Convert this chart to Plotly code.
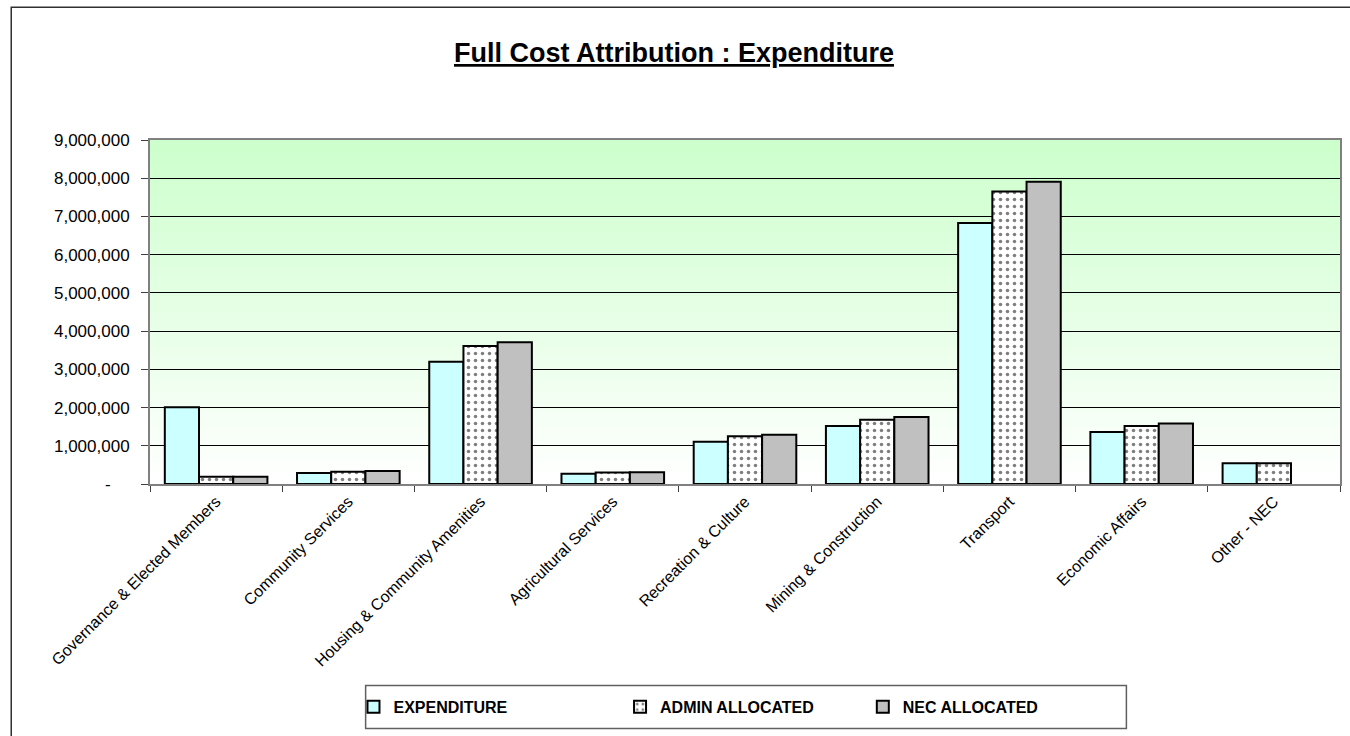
import plotly.graph_objects as go

categories = [
    "Governance & Elected Members",
    "Community Services",
    "Housing & Community Amenities",
    "Agricultural Services",
    "Recreation & Culture",
    "Mining & Construction",
    "Transport",
    "Economic Affairs",
    "Other - NEC",
]
expenditure = [2010000, 290000, 3200000, 270000, 1105000, 1520000, 6830000, 1360000, 540000]
admin_allocated = [190000, 320000, 3610000, 300000, 1250000, 1680000, 7650000, 1520000, 540000]
nec_allocated = [190000, 340000, 3710000, 305000, 1290000, 1750000, 7910000, 1580000, 0]

y_tickvals = [0, 1000000, 2000000, 3000000, 4000000, 5000000, 6000000, 7000000, 8000000, 9000000]
y_ticktext = ["-\u00a0\u00a0\u00a0\u00a0", "1,000,000", "2,000,000", "3,000,000", "4,000,000",
              "5,000,000", "6,000,000", "7,000,000", "8,000,000", "9,000,000"]

NARROW = "Liberation Sans Narrow, Arial Narrow, Liberation Sans, Arial"
REG = "Liberation Sans, Arial"


def outline(values):
    # zero-height bars get no outline so nothing is drawn for them
    return dict(color="black", width=[2 if v else 0 for v in values])


fig = go.Figure()

fig.add_trace(go.Bar(
    x=categories, y=expenditure, name="EXPENDITURE",
    marker=dict(color="#CCFFFF", line=outline(expenditure)),
    legend="legend",
))
fig.add_trace(go.Bar(
    x=categories, y=admin_allocated, name="ADMIN ALLOCATED",
    marker=dict(color="white", line=outline(admin_allocated),
                pattern=dict(shape=".", fgcolor="black", bgcolor="white",
                             size=7, solidity=0.2)),
    legend="legend2",
))
fig.add_trace(go.Bar(
    x=categories, y=nec_allocated, name="NEC ALLOCATED",
    marker=dict(color="#C0C0C0", line=outline(nec_allocated)),
    legend="legend3",
))

# Vertical green-to-white gradient behind the plot area
shapes = []
n_strips = 90
top = (0xCC, 0xFF, 0xCC)
for i in range(n_strips):
    f = (i + 0.5) / n_strips  # 0 at bottom, 1 at top
    r = round(255 + (top[0] - 255) * f)
    g = round(255 + (top[1] - 255) * f)
    b = round(255 + (top[2] - 255) * f)
    shapes.append(dict(
        type="rect", xref="x domain", yref="y domain",
        x0=0, x1=1, y0=i / n_strips, y1=(i + 1) / n_strips + 0.002,
        fillcolor=f"rgb({r},{g},{b})", line=dict(width=0), layer="below",
    ))

# Outer chart frame
shapes.append(dict(
    type="rect", xref="paper", yref="paper",
    x0=-0.1166, x1=1.02, y0=-0.76, y1=1.386,
    line=dict(color="#303030", width=1.5), fillcolor="rgba(0,0,0,0)", layer="above",
))
# Legend frame
shapes.append(dict(
    type="rect", xref="paper", yref="paper",
    x0=0.1812, x1=0.8205, y0=-0.7107, y1=-0.5858,
    line=dict(color="#606060", width=1.5), fillcolor="white", layer="above",
))
fig.update_layout(shapes=shapes)

legend_common = dict(
    orientation="h", bgcolor="rgba(0,0,0,0)", borderwidth=0,
    font=dict(family=NARROW, size=16, color="black", weight="bold"),
    yanchor="middle", y=-0.648, xanchor="left",
)
fig.update_layout(
    legend=dict(legend_common, x=0.1710),
    legend2=dict(legend_common, x=0.3950),
    legend3=dict(legend_common, x=0.5990),
)

fig.add_annotation(
    text="<b><u>Full Cost Attribution : Expenditure</u></b>",
    xref="paper", yref="paper", x=0.44, y=1.2527,
    xanchor="center", yanchor="middle", showarrow=False,
    font=dict(family=NARROW, size=27, color="black"),
)

fig.update_layout(
    width=1350, height=736,
    margin=dict(l=150, r=8, t=140, b=252),
    paper_bgcolor="white",
    plot_bgcolor="white",
    barmode="group",
    bargap=0.224,
    bargroupgap=0,
    showlegend=True,
)

fig.update_xaxes(
    type="category",
    tickson="boundaries",
    ticks="outside", ticklen=6, tickcolor="#404040", tickwidth=1,
    tickangle=-45,
    tickfont=dict(family=REG, size=16, color="black"),
    showline=True, linecolor="#808080", linewidth=2, mirror=True,
    showgrid=False,
)
fig.update_yaxes(
    range=[0, 9000000],
    tickvals=y_tickvals, ticktext=y_ticktext,
    ticks="outside", ticklen=7, tickcolor="#404040", tickwidth=1,
    ticklabelstandoff=8,
    tickfont=dict(family=REG, size=17, color="black"),
    showline=True, linecolor="#808080", linewidth=2, mirror=True,
    showgrid=True, gridcolor="black", gridwidth=1,
    zeroline=False,
)

fig.write_html("out.html")
